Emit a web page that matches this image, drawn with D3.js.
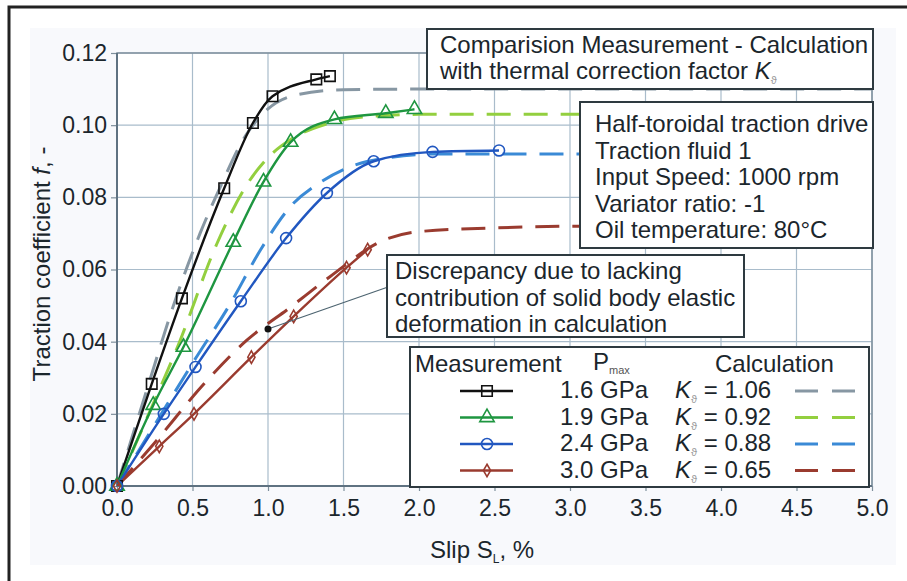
<!DOCTYPE html>
<html>
<head>
<meta charset="utf-8">
<script src="https://cdn.jsdelivr.net/npm/d3@7"></script>
<style>
  body { margin: 0; background: #fff; }
  text { font-family: "Liberation Sans", Arial, sans-serif; fill: #1b262c; }
</style>
</head>
<body>
<div id="chart"></div>
<script>
// axis ticks
var xTicks = [0, 0.5, 1, 1.5, 2, 2.5, 3, 3.5, 4, 4.5, 5];
var yTicks = [0, 0.02, 0.04, 0.06, 0.08, 0.1, 0.12];

// legend labels
var pressures = ["1.6 GPa", "1.9 GPa", "2.4 GPa", "3.0 GPa"];
var kFactors = ["1.06", "0.92", "0.88", "0.65"];

// measurement points [slip %, traction coefficient]
var meas16 = [[0, 0], [0.23, 0.0283], [0.43, 0.052], [0.71, 0.0825], [0.9, 0.1006], [1.03, 0.108], [1.32, 0.1127], [1.41, 0.1136]];
var meas19 = [[0, 0], [0.24, 0.0224], [0.44, 0.0385], [0.77, 0.0676], [0.97, 0.0843], [1.15, 0.0953], [1.44, 0.1016], [1.78, 0.1033], [1.97, 0.1044]];
var meas24 = [[0, 0], [0.31, 0.020], [0.52, 0.033], [0.82, 0.0512], [1.12, 0.0687], [1.39, 0.0812], [1.70, 0.090], [2.09, 0.0926], [2.53, 0.093]];
var meas30 = [[0, 0], [0.28, 0.011], [0.51, 0.020], [0.89, 0.0357], [1.17, 0.047], [1.52, 0.0605], [1.66, 0.0655]];

// calculation curves
var calc16 = [[0, 0], [0.2, 0.027], [0.39, 0.052], [0.55, 0.07], [0.68, 0.0825], [0.85, 0.097], [1.0, 0.1045], [1.2, 0.1085], [1.5, 0.1098], [2, 0.110], [5, 0.110]];
var calc19 = [[0, 0], [0.2, 0.019], [0.41, 0.0395], [0.66, 0.067], [0.86, 0.0835], [1.0, 0.091], [1.15, 0.096], [1.4, 0.1005], [1.7, 0.1025], [2, 0.103], [5, 0.103]];
var calc24 = [[0, 0], [0.25, 0.017], [0.5, 0.034], [0.75, 0.0505], [0.95, 0.0654], [1.15, 0.0775], [1.36, 0.0845], [1.54, 0.0884], [1.8, 0.091], [2.1, 0.092], [5, 0.092]];
var calc30 = [[0, 0], [0.25, 0.012], [0.58, 0.0285], [0.86, 0.0404], [1.15, 0.0496], [1.41, 0.058], [1.76, 0.068], [2, 0.0705], [2.5, 0.0715], [3, 0.072], [5, 0.072]];

// point the discrepancy note refers to
var notePoint = [1.0, 0.0435];

var measColors = ["#111111", "#1e9640", "#2157c0", "#9a3b2f"];
var calcColors = ["#8797a3", "#93cf3f", "#3a8ad6", "#9a3b2f"];
var symbols = [d3.symbolSquare, d3.symbolTriangle, d3.symbolCircle, d3.symbolDiamond];
var symSizes = [110, 90, 95, 45];

var W = 907, H = 581;
var pLeft = 117, pRight = 872, pTop = 53, pBottom = 486;

var svg = d3.select("#chart").append("svg")
    .attr("width", W).attr("height", H);

// frame of the figure
svg.append("rect").attr("x", 30).attr("y", 28).attr("width", 866).attr("height", 537)
    .attr("fill", "#f8f9fc");
svg.append("path").attr("d", "M9,581 V7 H907")
    .attr("fill", "none").attr("stroke", "#222").attr("stroke-width", 3);

var x = d3.scaleLinear().domain([0, 5]).range([pLeft, pRight]);
var y = d3.scaleLinear().domain([0, 0.12]).range([pBottom, pTop]);

svg.append("rect").attr("x", pLeft).attr("y", pTop)
    .attr("width", pRight - pLeft).attr("height", pBottom - pTop).attr("fill", "#fff");

// grid
svg.append("g").selectAll("line").data(xTicks).enter().append("line")
    .attr("x1", function (d) { return x(d); }).attr("x2", function (d) { return x(d); })
    .attr("y1", pTop).attr("y2", pBottom)
    .attr("stroke", "#a9bccb").attr("stroke-width", 1.2);
svg.append("g").selectAll("line").data(yTicks).enter().append("line")
    .attr("x1", pLeft).attr("x2", pRight)
    .attr("y1", function (d) { return y(d); }).attr("y2", function (d) { return y(d); })
    .attr("stroke", "#a9bccb").attr("stroke-width", 1.2);

// axes
var xAxis = svg.append("g").attr("transform", "translate(0," + pBottom + ")")
    .call(d3.axisBottom(x).tickValues(xTicks).tickFormat(d3.format(".1f")).tickSize(5).tickPadding(9));
var yAxis = svg.append("g").attr("transform", "translate(" + pLeft + ",0)")
    .call(d3.axisLeft(y).tickValues(yTicks).tickFormat(d3.format(".2f")).tickSize(6).tickPadding(4));
[xAxis, yAxis].forEach(function (a) {
    a.select(".domain").remove();
    a.selectAll("line").attr("stroke", "#7e8f9c").attr("stroke-width", 1.2);
    a.selectAll("text").attr("font-size", 23).attr("fill", "#1f2d34")
        .attr("font-family", "Liberation Sans, Arial, sans-serif");
});
xAxis.selectAll("text").attr("dy", "0.71em");

svg.append("rect").attr("x", pLeft).attr("y", pTop)
    .attr("width", pRight - pLeft).attr("height", pBottom - pTop)
    .attr("fill", "none").attr("stroke", "#7e8f9c").attr("stroke-width", 1.5);
svg.append("path").attr("d", "M" + pLeft + "," + pTop + " V" + pBottom + " H" + pRight)
    .attr("fill", "none").attr("stroke", "#5f7281").attr("stroke-width", 2);

// axis titles
var yt = svg.append("text").attr("transform", "translate(50,264) rotate(-90)")
    .attr("text-anchor", "middle").attr("font-size", 24);
yt.append("tspan").text("Traction coefficient ");
yt.append("tspan").attr("font-style", "italic").text("f");
yt.append("tspan").text(", -");

var xt = svg.append("text").attr("x", 430).attr("y", 558).attr("font-size", 24);
xt.append("tspan").text("Slip S");
xt.append("tspan").attr("font-size", 12).attr("dy", 5).text("L");
xt.append("tspan").attr("dy", -5).text(", %");

// curves
var line = d3.line()
    .x(function (d) { return x(d[0]); })
    .y(function (d) { return y(d[1]); })
    .curve(d3.curveMonotoneX);

var calcs = [calc16, calc19, calc24, calc30];
var meas = [meas16, meas19, meas24, meas30];

svg.append("clipPath").attr("id", "plotClip").append("rect")
    .attr("x", pLeft).attr("y", pTop).attr("width", pRight - pLeft).attr("height", pBottom - pTop);

var plot = svg.append("g").attr("clip-path", "url(#plotClip)");

plot.selectAll(".calc").data(calcs).enter().append("path")
    .attr("class", "calc")
    .attr("d", line)
    .attr("fill", "none")
    .attr("stroke", function (d, i) { return calcColors[i]; })
    .attr("stroke-width", 3)
    .attr("stroke-dasharray", "24,13");

plot.selectAll(".meas").data(meas).enter().append("path")
    .attr("class", "meas")
    .attr("d", line)
    .attr("fill", "none")
    .attr("stroke", function (d, i) { return measColors[i]; })
    .attr("stroke-width", 2.4);

meas.forEach(function (pts, i) {
    svg.append("g").selectAll("path").data(pts).enter().append("path")
        .attr("transform", function (d) { return "translate(" + x(d[0]) + "," + y(d[1]) + ")"; })
        .attr("d", d3.symbol().type(symbols[i]).size(symSizes[i]))
        .attr("fill", "none")
        .attr("stroke", measColors[i])
        .attr("stroke-width", 1.6);
});

// boxes with text
function textBox(x0, y0, w, h, lines, tx, baseline, step) {
    svg.append("rect").attr("x", x0).attr("y", y0).attr("width", w).attr("height", h)
        .attr("fill", "#fff").attr("stroke", "#2e3a40").attr("stroke-width", 2);
    var t = svg.append("text").attr("font-size", 24);
    lines.forEach(function (l, i) {
        t.append("tspan").attr("x", tx).attr("y", baseline + i * step).text(l);
    });
    return t;
}

// pointer of the discrepancy note
svg.append("line")
    .attr("x1", x(notePoint[0])).attr("y1", y(notePoint[1]))
    .attr("x2", 388).attr("y2", 287)
    .attr("stroke", "#4d6470").attr("stroke-width", 1.2);
svg.append("circle").attr("cx", x(notePoint[0])).attr("cy", y(notePoint[1])).attr("r", 3.5)
    .attr("fill", "#111");

var t1 = textBox(427, 29, 446, 60, ["Comparision Measurement - Calculation"], 440, 53, 25.5);
t1.append("tspan").attr("x", 440).attr("y", 79).text("with thermal correction factor ");
t1.append("tspan").attr("font-style", "italic").text("K");
t1.append("tspan").attr("font-size", 11).attr("dy", 5).attr("fill", "#999").text("\u03d1");

textBox(580, 102, 293, 146, ["Half-toroidal traction drive", "Traction fluid 1", "Input Speed: 1000 rpm",
    "Variator ratio: -1", "Oil temperature: 80\u00b0C"], 595, 132, 26.5);

textBox(387, 255, 357, 82, ["Discrepancy due to lacking", "contribution of solid body elastic",
    "deformation in calculation"], 395, 279, 26.5);

// legend
svg.append("rect").attr("x", 410).attr("y", 347).attr("width", 459).attr("height", 140)
    .attr("fill", "#fff").attr("stroke", "#2e3a40").attr("stroke-width", 2);
svg.append("text").attr("x", 415).attr("y", 372).attr("font-size", 24).text("Measurement");
var ph = svg.append("text").attr("x", 593).attr("y", 370).attr("font-size", 24);
ph.append("tspan").text("P");
ph.append("tspan").attr("font-size", 11).attr("dy", 4).attr("fill", "#555").text("max");
svg.append("text").attr("x", 715).attr("y", 372).attr("font-size", 24).text("Calculation");

pressures.forEach(function (p, i) {
    var by = 398 + i * 26.5, cy = by - 7;
    svg.append("line").attr("x1", 460).attr("x2", 513).attr("y1", cy).attr("y2", cy)
        .attr("stroke", measColors[i]).attr("stroke-width", 2.4);
    svg.append("path").attr("transform", "translate(487," + cy + ")")
        .attr("d", d3.symbol().type(symbols[i]).size(symSizes[i]))
        .attr("fill", "none").attr("stroke", measColors[i]).attr("stroke-width", 1.6);
    svg.append("text").attr("x", 560).attr("y", by).attr("font-size", 24).text(p);
    var kt = svg.append("text").attr("x", 675).attr("y", by).attr("font-size", 24);
    kt.append("tspan").attr("font-style", "italic").text("K");
    kt.append("tspan").attr("font-size", 11).attr("dy", 5).attr("fill", "#999").text("\u03d1");
    kt.append("tspan").attr("dy", -5).text(" = " + kFactors[i]);
    svg.append("line").attr("x1", 795).attr("x2", 855).attr("y1", cy).attr("y2", cy)
        .attr("stroke", calcColors[i]).attr("stroke-width", 3)
        .attr("stroke-dasharray", "23,14");
});
</script>
</body>
</html>
